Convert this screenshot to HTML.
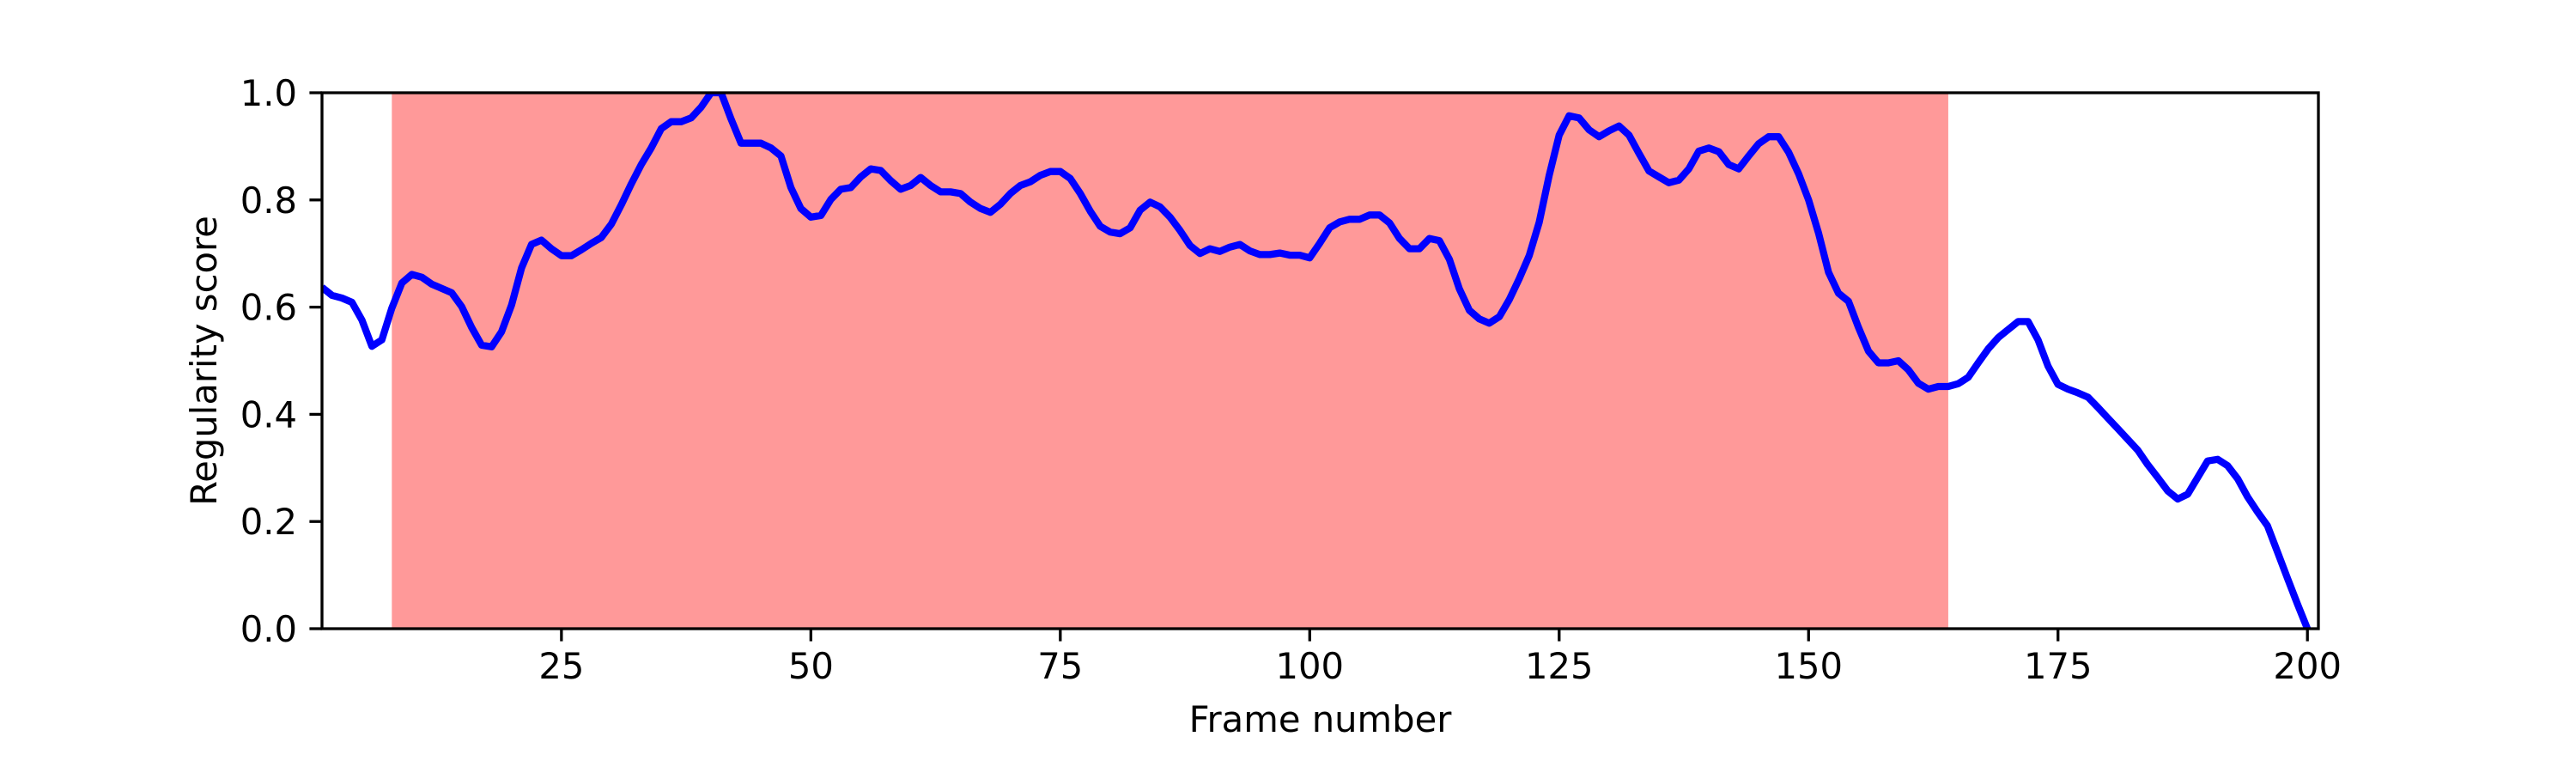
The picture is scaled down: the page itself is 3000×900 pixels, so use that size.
<!DOCTYPE html>
<html><head><meta charset="utf-8"><style>
html,body{margin:0;padding:0;background:#fff;}
svg{display:block;font-family:"DejaVu Sans","Liberation Sans",sans-serif;}
</style></head><body>
<svg id="chart" width="3000" height="900" viewBox="0 0 3000 900">
<rect width="3000" height="900" fill="#fff"/>
<g id="plot"></g>
</svg>
<script>
const frames = [];
for (let i = 1; i <= 200; i++) frames.push(i);
const scores = [
0.637,0.622,0.617,0.609,0.576,0.527,0.539,0.598,0.645,0.661,
0.656,0.643,0.635,0.627,0.601,0.562,0.529,0.526,0.554,0.604,
0.673,0.717,0.725,0.709,0.696,0.696,0.707,0.719,0.730,0.755,
0.791,0.830,0.866,0.897,0.933,0.946,0.946,0.953,0.973,1.0,
1.0,0.951,0.906,0.906,0.906,0.897,0.882,0.823,0.784,0.768,
0.771,0.801,0.820,0.823,0.843,0.858,0.855,0.836,0.820,0.827,
0.842,0.827,0.815,0.815,0.812,0.796,0.784,0.777,0.792,0.812,
0.827,0.834,0.846,0.853,0.853,0.840,0.812,0.779,0.751,0.740,
0.737,0.748,0.781,0.796,0.787,0.768,0.743,0.715,0.700,0.709,
0.704,0.712,0.717,0.705,0.698,0.698,0.701,0.697,0.697,0.692,
0.719,0.748,0.759,0.764,0.764,0.772,0.772,0.757,0.728,0.709,
0.709,0.728,0.724,0.689,0.634,0.594,0.578,0.570,0.582,0.614,
0.653,0.696,0.758,0.846,0.921,0.957,0.953,0.931,0.918,0.929,
0.938,0.921,0.887,0.854,0.843,0.832,0.837,0.858,0.891,0.897,
0.890,0.866,0.858,0.882,0.905,0.918,0.918,0.889,0.849,0.800,
0.738,0.665,0.626,0.611,0.562,0.518,0.496,0.496,0.500,0.483,
0.458,0.447,0.452,0.452,0.457,0.469,0.496,0.522,0.543,0.558,
0.573,0.573,0.539,0.490,0.456,0.447,0.440,0.432,0.413,0.393,
0.373,0.353,0.333,0.306,0.282,0.257,0.242,0.251,0.282,0.313,
0.316,0.304,0.280,0.246,0.218,0.192,0.143,0.094,0.046,0.0
];
const xTicks = [25,50,75,100,125,150,175,200];
const yTicks = [0,0.2,0.4,0.6,0.8,1.0];
const span = [8,164];
const xDomain = [1,201.1];
const yDomain = [0,1];

const L=375,R=2700,T=108,B=732;
const NS="http://www.w3.org/2000/svg";
const g=document.getElementById('plot');
function x(v){return L+(v-xDomain[0])/(xDomain[1]-xDomain[0])*(R-L);}
function y(v){return B-(v-yDomain[0])/(yDomain[1]-yDomain[0])*(B-T);}
function mk(tag,attrs){const e=document.createElementNS(NS,tag);for(const k in attrs)e.setAttribute(k,attrs[k]);return e;}

const clip=mk('clipPath',{id:'clip'});clip.appendChild(mk('rect',{x:L,y:T,width:R-L,height:B-T}));
const defs=mk('defs',{});defs.appendChild(clip);g.appendChild(defs);

const sp=mk('rect',{x:x(span[0]),y:T,width:x(span[1])-x(span[0]),height:B-T,fill:'#ff9999'});


g.appendChild(sp);

let d='';
frames.forEach((f,i)=>{d+=(i?'L':'M')+x(f).toFixed(1)+','+y(scores[i]).toFixed(1);});
const line=mk('path',{d:d,fill:'none',stroke:'#0000ff','stroke-width':8.3,'stroke-linejoin':'round','clip-path':'url(#clip)'});


g.appendChild(line);

const frame=mk('rect',{x:L,y:T,width:R-L,height:B-T,fill:'none',stroke:'#000','stroke-width':3.3});


g.appendChild(frame);

xTicks.forEach(t=>{
  const tk=mk('line',{x1:x(t),x2:x(t),y1:B,y2:B+14.6,stroke:'#000','stroke-width':3.3});
  
  
  g.appendChild(tk);
  const tx=mk('text',{x:x(t),y:B+58,'font-size':41.7,'text-anchor':'middle',fill:'#000'});
  tx.textContent=String(t);
  
  
  g.appendChild(tx);
});
yTicks.forEach(t=>{
  const tk=mk('line',{x1:L-14.6,x2:L,y1:y(t),y2:y(t),stroke:'#000','stroke-width':3.3});
  
  
  g.appendChild(tk);
  const tx=mk('text',{x:L-29,y:y(t)+15,'font-size':41.7,'text-anchor':'end',fill:'#000'});
  tx.textContent=t.toFixed(1);
  
  
  g.appendChild(tx);
});
const xl=mk('text',{x:(L+R)/2,y:B+120,'font-size':41.7,'text-anchor':'middle',fill:'#000'});
xl.textContent='Frame number';


g.appendChild(xl);
const yl=mk('text',{x:0,y:0,'font-size':41.7,'text-anchor':'middle',fill:'#000',transform:'translate(252,'+((T+B)/2)+') rotate(-90)'});
yl.textContent='Regularity score';


g.appendChild(yl);
</script>
</body></html>
